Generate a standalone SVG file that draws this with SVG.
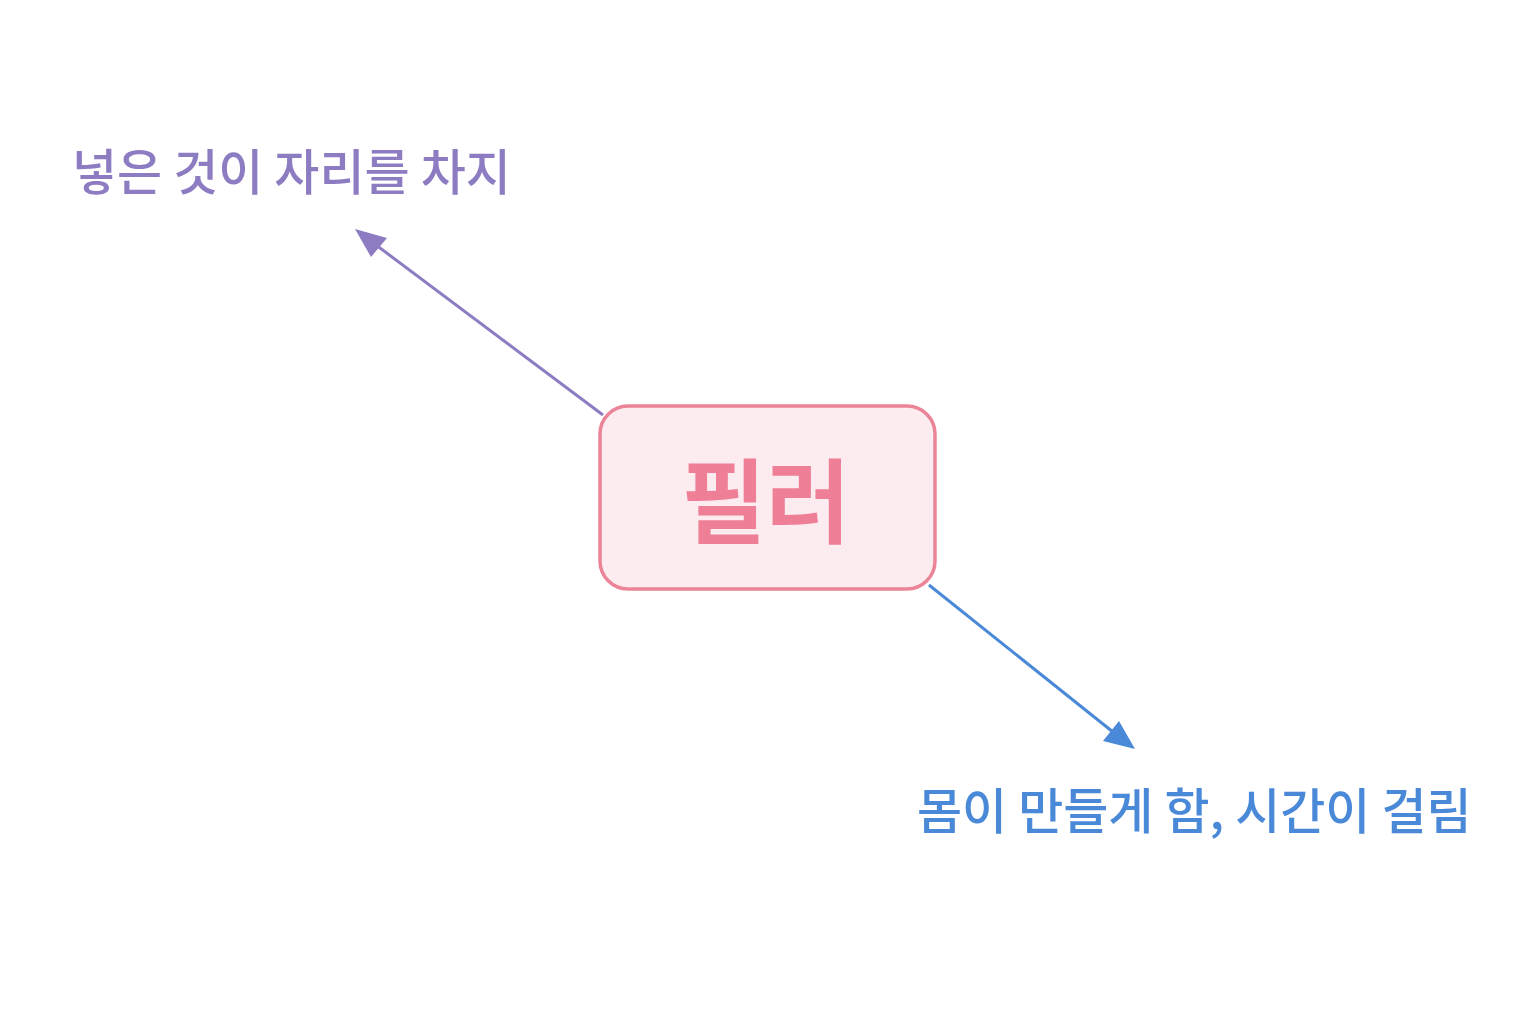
<svg xmlns="http://www.w3.org/2000/svg" width="1536" height="1024" viewBox="0 0 1536 1024">
<defs>
<style>
.lbl{font-family:"Noto Sans CJK KR","Noto Sans",sans-serif;font-weight:500;font-size:49px}
.title{font-family:"Noto Sans CJK KR","Noto Sans",sans-serif;font-weight:700;font-size:92px;fill:#EE7F96}
</style>
</defs>
<rect width="1536" height="1024" fill="#FFFFFF"/>
<g id="connectors">
<line x1="603" y1="415" x2="372" y2="242" stroke="#8E7CC3" stroke-width="3"/>
<path d="M355,229 L387,238 L371,257 z" fill="#8E7CC3"/>
<line x1="929" y1="585" x2="1118" y2="736" stroke="#4A89D8" stroke-width="3"/>
<path d="M1135,749 L1103,741 L1119,721 z" fill="#4A89D8"/>
</g>
<g id="node-filler">
<rect x="600" y="406" width="335" height="183" rx="28" fill="#FDECEF" stroke="#EC8498" stroke-width="3.5"/>
<text class="title" x="766" y="536" text-anchor="middle">필러</text>
</g>
<g id="label-top">
<text class="lbl" x="72" y="190" fill="#8E7CC3">넣은 것이 자리를 차지</text>
</g>
<g id="label-bottom">
<text class="lbl" x="917" y="829" fill="#4A89D8">몸이 만들게 함, 시간이 걸림</text>
</g>
</svg>
